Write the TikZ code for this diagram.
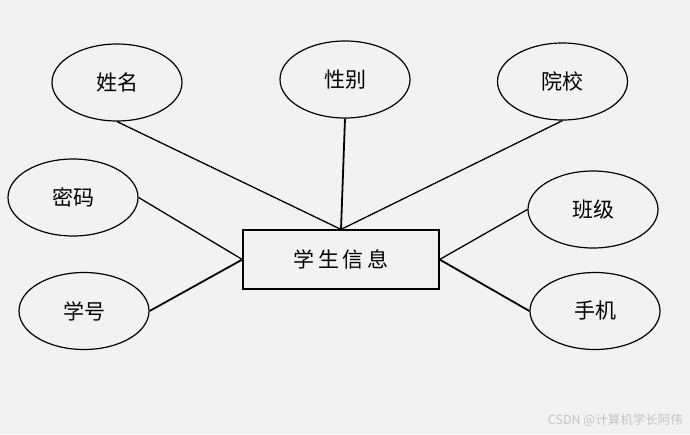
\documentclass[tikz,border=0pt]{standalone}
\usepackage{fontspec}
\newfontfamily\cjk{Noto Sans CJK SC}
\definecolor{bg}{HTML}{F2F2F2}
\definecolor{wm}{HTML}{C4C4C4}
\tikzset{
  attr/.style={draw, ellipse, line width=1.2pt, minimum width=130pt, minimum height=77pt, inner sep=0pt, font=\cjk\fontsize{21}{21}\selectfont},
  ent/.style={draw, rectangle, line width=1.2pt, minimum width=196pt, minimum height=59pt, inner sep=0pt, font=\cjk\fontsize{21}{21}\selectfont},
  link/.style={line width=1.3pt},
  thick link/.style={line width=1.8pt}
}
\usetikzlibrary{shapes.geometric}
\begin{document}
\begin{tikzpicture}[x=1pt,y=-1pt]
\fill[bg] (0,0) rectangle (690,434);
\useasboundingbox (0,0) rectangle (690,434);
\node[ent] (s) at (341,259.5) {学\,生\,信\,息};
\node[attr] (xm) at (117,82.5) {姓名};
\node[attr] (xb) at (345,79.5) {性别};
\node[attr] (yx) at (562.5,81.5) {院校};
\node[attr] (mm) at (73,197.5) {密码};
\node[attr] (xh) at (84,311) {学号};
\node[attr] (bj) at (593,209.5) {班级};
\node[attr] (sj) at (595,311) {手机};
\draw[link] (xm.south) -- (s.north);
\draw[thick link] (xb.south) -- (s.north);
\draw[link] (yx.south) -- (s.north);
\draw[link] (mm.east) -- (s.west);
\draw[thick link] (xh.east) -- (s.west);
\draw[link] (bj.west) -- (s.east);
\draw[thick link] (sj.west) -- (s.east);
\node[anchor=east, text=wm, font=\cjk\fontsize{12.5}{12.5}\selectfont, inner sep=0pt] (w) at (683,420) {CSDN @计算机学长阿伟};
\end{tikzpicture}
\end{document}
